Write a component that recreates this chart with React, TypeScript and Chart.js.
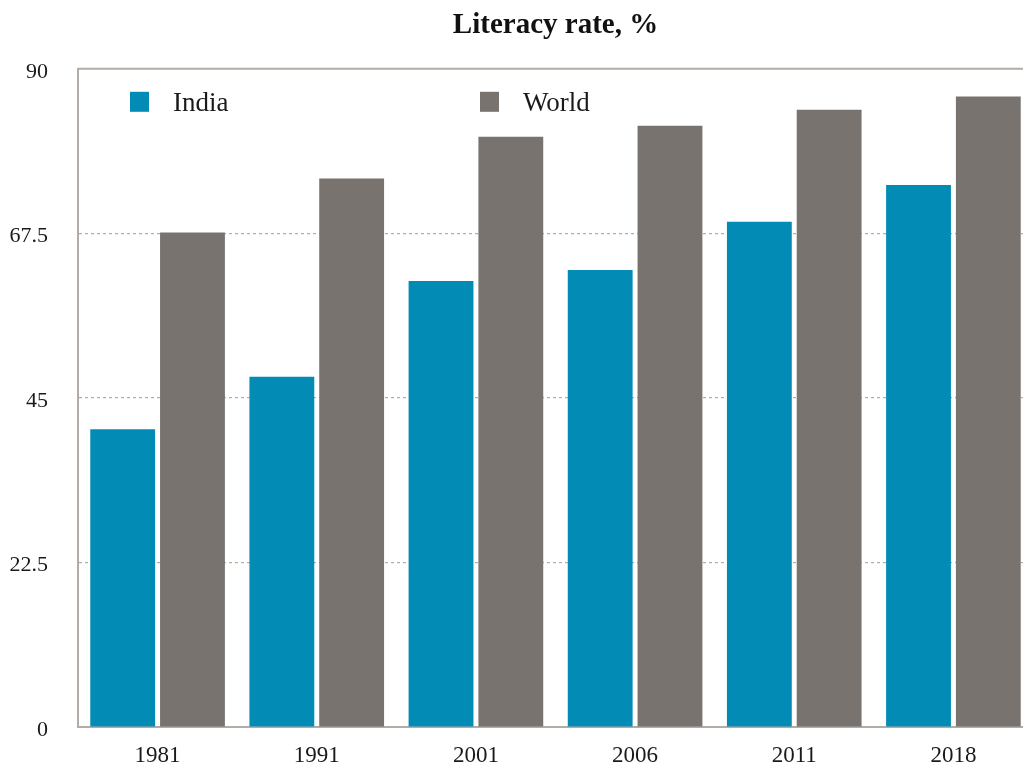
import React, { useEffect, useRef } from "react";
import { Chart, registerables } from "chart.js";

Chart.register(...registerables);

const categories = ["1981", "1991", "2001", "2006", "2011", "2018"];
const indiaValues = [40.7, 47.9, 61.0, 62.5, 69.1, 74.1];
const worldValues = [67.6, 75.0, 80.7, 82.2, 84.4, 86.2];
const yTicks = [0, 22.5, 45, 67.5, 90];

const INDIA_COLOR = "#028CB5";
const WORLD_COLOR = "#78736F";
const AXIS_COLOR = "#B2ABA6";
const GRID_COLOR = "#B3ACA7";
const FONT = "'Liberation Serif', 'DejaVu Serif', serif";

const frameAndLegend = {
  id: "frameAndLegend",
  afterDraw(chart: any) {
    const { ctx, chartArea } = chart;
    ctx.save();
    // top frame line
    ctx.strokeStyle = AXIS_COLOR;
    ctx.lineWidth = 2;
    ctx.beginPath();
    ctx.moveTo(chartArea.left, chartArea.top);
    ctx.lineTo(chartArea.right, chartArea.top);
    ctx.stroke();
    // legend
    const offsets = [52, 402];
    chart.data.datasets.forEach((ds: any, i: number) => {
      const x = chartArea.left + offsets[i];
      const y = chartArea.top + 23;
      ctx.fillStyle = ds.backgroundColor;
      ctx.fillRect(x, y, 19, 20);
      ctx.fillStyle = "#1a1a1a";
      ctx.font = `27px ${FONT}`;
      ctx.textBaseline = "alphabetic";
      ctx.textAlign = "left";
      ctx.fillText(ds.label, x + 43, y + 19);
    });
    ctx.restore();
  },
};

export default function App() {
  const ref = useRef<HTMLCanvasElement>(null);
  useEffect(() => {
    if (!ref.current) return;
    const chart = new Chart(ref.current, {
      type: "bar",
      data: {
        labels: categories,
        datasets: [
          { label: "India", data: indiaValues, backgroundColor: INDIA_COLOR },
          { label: "World", data: worldValues, backgroundColor: WORLD_COLOR },
        ],
      },
      options: {
        responsive: false,
        animation: false,
        layout: { padding: 0 },
        datasets: {
          bar: { categoryPercentage: 0.877, barPercentage: 0.929 },
        } as any,
        plugins: {
          legend: { display: false },
          tooltip: { enabled: false },
          title: {
            display: true,
            text: "Literacy rate, %",
            fullSize: false,
            color: "#111",
            font: { family: FONT, size: 29, weight: "bold" },
            padding: { top: 0, bottom: 26 },
          },
        },
        scales: {
          x: {
            grid: { display: false },
            border: { display: true, color: AXIS_COLOR, width: 2 },
            ticks: {
              color: "#1a1a1a",
              font: { family: FONT, size: 23 },
              padding: 7,
              maxRotation: 0,
            },
            afterFit: (scale: any) => {
              scale.height = 44;
            },
          },
          y: {
            min: 0,
            max: 90,
            afterBuildTicks: (scale: any) => {
              scale.ticks = yTicks.map((v) => ({ value: v }));
            },
            grid: {
              drawTicks: false,
              color: (c: any) =>
                c.tick && (c.tick.value === 0 || c.tick.value === 90)
                  ? "rgba(0,0,0,0)"
                  : GRID_COLOR,
              lineWidth: 1.2,
            },
            border: { display: true, color: AXIS_COLOR, width: 2, dash: [3, 3] },
            ticks: {
              color: "#1a1a1a",
              font: { family: FONT, size: 22 },
              padding: 30,
              labelOffset: 3,
              callback: (v: any) => String(v),
            },
            afterFit: (scale: any) => {
              scale.width = 70;
            },
          },
        },
      },
      plugins: [frameAndLegend],
    });
    return () => chart.destroy();
  }, []);
  return (
    <div
      style={{
        position: "absolute",
        left: 8,
        top: 8,
        width: 1015,
        height: 763,
        overflow: "hidden",
      }}
    >
      <canvas
        ref={ref}
        width={1025}
        height={763}
        style={{ display: "block", width: 1025, height: 763 }}
      />
    </div>
  );
}
